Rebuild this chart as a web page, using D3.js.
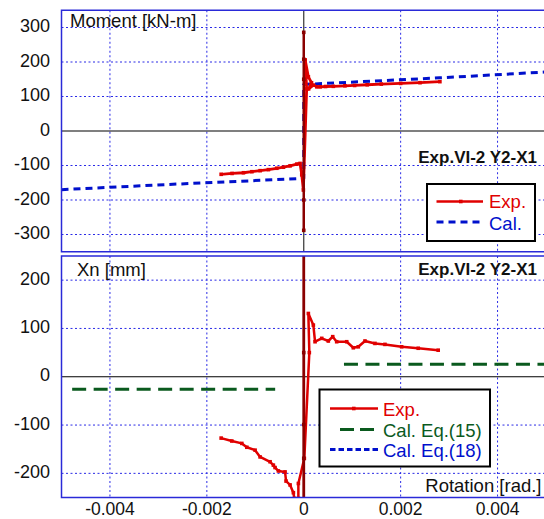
<!DOCTYPE html>
<html><head><meta charset="utf-8">
<script src="https://cdn.jsdelivr.net/npm/d3@7"></script>
<style>body{margin:0;background:#fff}svg{display:block}text{font-family:"Liberation Sans",Arial,sans-serif}</style>
</head><body><svg id="c" width="544" height="519"></svg>
<script>
// ---- data ----
const xTicks = [-0.004, -0.002, 0, 0.002, 0.004];
const xTickLabels = ["-0.004", "-0.002", "0", "0.002", "0.004"];
const momentTicks = [300, 200, 100, 0, -100, -200, -300];
const xnTicks = [200, 100, 0, -100, -200];
// Moment panel – experiment (rotation, moment)
const momentExp = [
  [-0.001705,-125.5],[-0.00148,-123],[-0.001245,-121],[-0.00107,-118],[-0.0009,-115],[-0.00073,-112],
  [-0.000557,-108],[-0.00042,-105],[-0.000282,-101],[-0.000144,-96],[-0.000076,-94],[-0.000041,-127],
  [-0.000008,-171],[0.00006,122],[0.00003,206],[0.000095,157],[0.00016,140],[0.0001,122],[0.0002,133],
  [0.00027,128],[0.00034,128],[0.00045,129],[0.00061,129.5],[0.00085,131],[0.00105,132],[0.00131,134],
  [0.0016,136],[0.002,138],[0.0024,140],[0.00281,143]
];
const momentExpSpike = [[0,286],[0,208],[0,150],[0,-200],[0,-288]];
const momentCal = [
  [-0.005,-170],[-0.0028,-155],[-0.0001,-138],[0,-138],[0,135],[0.0028,154],[0.005,171]
];
// Xn panel – experiment (rotation, Xn)
const xnExp = [
  [-0.001705,-127],[-0.001485,-133],[-0.001278,-138],[-0.001175,-146],[-0.001004,-152],
  [-0.000901,-166],[-0.000695,-176],[-0.000627,-183],[-0.000592,-188],[-0.000524,-195],
  [-0.000386,-197],[-0.000365,-216],[-0.000282,-224],[-0.000214,-240],[-0.000194,-252],
  [-0.000111,-252],[-0.000111,-221],[0.000012,-169],[0.000115,50],[0.000095,131],
  [0.000198,107],[0.000233,72.5],[0.000371,79.5],[0.000507,74],[0.000598,83],[0.00068,72.5],
  [0.000887,72.5],[0.001023,60],[0.001126,62],[0.001264,74],[0.00147,69],[0.001676,67],
  [0.002021,62],[0.002363,59],[0.002775,55]
];
const xnExpSpike = [[0,260],[0,50],[0,-99],[0,-169],[0,-260]];
const xnCal15Neg = [[-0.00478,-26],[-0.00059,-26]];
const xnCal15Pos = [[0.00083,26],[0.005,26]];
const specimen = "Exp.VI-2 Y2-X1";

// ---- layout ----
const svg = d3.select("#c");
const x = d3.scaleLinear().domain([-0.005, 0.005]).range([61.5, 546]);
const yM = d3.scaleLinear().domain([-350, 350]).range([251.75, 10.25]);
const yX = d3.scaleLinear().domain([-250, 250]).range([497.5, 256]);
const RED = "#e00000", DARKRED = "#8a0000", BLUE = "#0010cc", GREEN = "#0a5a1e", GRID = "#2a2ae6", FRAME = "#2a2ad8";
const FONT = "18.5px";

function panel(id, y, yTicks, top, bottom) {
  const g = svg.append("g");
  g.append("clipPath").attr("id", id).append("rect")
    .attr("x", x.range()[0]).attr("y", top).attr("width", 544 - x.range()[0]).attr("height", bottom - top);
  const gx = xTicks.filter(t => t !== 0), gy = yTicks.filter(t => t !== 0);
  g.selectAll(".gx").data(gx).join("line").attr("x1", d => x(d)).attr("x2", d => x(d))
    .attr("y1", top).attr("y2", bottom).attr("stroke", GRID).attr("stroke-width", 1).attr("stroke-dasharray", "2,2.5");
  g.selectAll(".gy").data(gy).join("line").attr("y1", d => y(d)).attr("y2", d => y(d))
    .attr("x1", x.range()[0]).attr("x2", 546).attr("stroke", GRID).attr("stroke-width", 1).attr("stroke-dasharray", "2,2.5");
  g.append("line").attr("x1", x.range()[0]).attr("x2", 546).attr("y1", y(0)).attr("y2", y(0)).attr("stroke", "#000").attr("stroke-width", 1.2);
  g.append("line").attr("x1", x(0)).attr("x2", x(0)).attr("y1", top).attr("y2", bottom).attr("stroke", "#333").attr("stroke-width", 1.2);
  g.selectAll(".yl").data(yTicks).join("text").attr("x", 50).attr("y", d => y(d) + 4.5)
    .attr("text-anchor", "end").attr("font-size", "18px").attr("fill", "#111").text(d => d);
  const plot = g.append("g").attr("clip-path", `url(#${id})`);
  return {g, plot};
}

function series(plot, y, data, color, width, dash, markers) {
  const line = d3.line().x(d => x(d[0])).y(d => y(d[1]));
  plot.append("path").datum(data).attr("d", line).attr("fill", "none").attr("stroke", color)
    .attr("stroke-width", width).attr("stroke-dasharray", dash || null).attr("stroke-linejoin", "round");
  if (markers) {
    plot.selectAll(null).data(data).join("rect").attr("x", d => x(d[0]) - 1.8).attr("y", d => y(d[1]) - 1.8)
      .attr("width", 3.6).attr("height", 3.6).attr("fill", color);
  }
}

// top panel
const P1 = panel("clip1", yM, momentTicks, 10.25, 251.75);
series(P1.plot, yM, momentCal, BLUE, 3, "7,5", false);
series(P1.plot, yM, momentExp, RED, 2.8, null, true);
series(P1.plot, yM, momentExpSpike, DARKRED, 2.5, null, true);
P1.g.append("rect").attr("x", x.range()[0]).attr("y", 10.25).attr("width", 600).attr("height", 241.5)
  .attr("fill", "none").attr("stroke", FRAME).attr("stroke-width", 1.5);
P1.g.append("text").attr("x", 70).attr("y", 27).attr("font-size", FONT).attr("fill", "#111").text("Moment [kN-m]");
P1.g.append("text").attr("x", 537).attr("y", 163).attr("text-anchor", "end").attr("font-size", "17px")
  .attr("font-weight", "bold").attr("fill", "#111").text(specimen);

// top legend
const L1 = P1.g.append("g");
L1.append("rect").attr("x", 427).attr("y", 184).attr("width", 108).attr("height", 57).attr("fill", "#fff")
  .attr("stroke", "#000").attr("stroke-width", 2);
L1.append("line").attr("x1", 436.5).attr("x2", 483).attr("y1", 201.5).attr("y2", 201.5).attr("stroke", RED).attr("stroke-width", 2.5);
L1.append("rect").attr("x", 459).attr("y", 199.7).attr("width", 3.6).attr("height", 3.6).attr("fill", RED);
L1.append("line").attr("x1", 436.5).attr("x2", 483).attr("y1", 222).attr("y2", 222).attr("stroke", BLUE).attr("stroke-width", 3).attr("stroke-dasharray", "7,5");
L1.append("text").attr("x", 489).attr("y", 208).attr("font-size", FONT).attr("fill", RED).text("Exp.");
L1.append("text").attr("x", 489).attr("y", 229.5).attr("font-size", FONT).attr("fill", BLUE).text("Cal.");

// bottom panel
const P2 = panel("clip2", yX, xnTicks, 256, 497.5);
series(P2.plot, yX, xnCal15Neg, GREEN, 3, "14,7.5", false);
series(P2.plot, yX, xnCal15Pos, GREEN, 3, "14,7.5", false);
series(P2.plot, yX, xnExp, RED, 2.5, null, true);
series(P2.plot, yX, xnExpSpike, DARKRED, 2.8, null, true);
P2.g.append("rect").attr("x", x.range()[0]).attr("y", 256).attr("width", 600).attr("height", 241.5)
  .attr("fill", "none").attr("stroke", FRAME).attr("stroke-width", 1.5);
P2.g.append("text").attr("x", 77).attr("y", 276).attr("font-size", FONT).attr("fill", "#111").text("Xn [mm]");
P2.g.append("text").attr("x", 537).attr("y", 275).attr("text-anchor", "end").attr("font-size", "17px")
  .attr("font-weight", "bold").attr("fill", "#111").text(specimen);
P2.g.append("text").attr("x", 541.5).attr("y", 491.5).attr("text-anchor", "end").attr("font-size", FONT)
  .attr("fill", "#111").text("Rotation [rad.]");

// bottom legend
const L2 = P2.g.append("g");
L2.append("rect").attr("x", 319.5).attr("y", 389.5).attr("width", 170.5).attr("height", 77).attr("fill", "#fff")
  .attr("stroke", "#000").attr("stroke-width", 2);
L2.append("line").attr("x1", 330).attr("x2", 378).attr("y1", 408.5).attr("y2", 408.5).attr("stroke", RED).attr("stroke-width", 2.5);
L2.append("rect").attr("x", 352).attr("y", 406.7).attr("width", 3.6).attr("height", 3.6).attr("fill", RED);
L2.append("line").attr("x1", 340).attr("x2", 378).attr("y1", 429.5).attr("y2", 429.5).attr("stroke", GREEN).attr("stroke-width", 3).attr("stroke-dasharray", "14,6");
L2.append("line").attr("x1", 330).attr("x2", 378).attr("y1", 449.5).attr("y2", 449.5).attr("stroke", BLUE).attr("stroke-width", 3).attr("stroke-dasharray", "5.5,3");
L2.append("text").attr("x", 383).attr("y", 415.5).attr("font-size", FONT).attr("fill", RED).text("Exp.");
L2.append("text").attr("x", 383).attr("y", 436.5).attr("font-size", FONT).attr("fill", GREEN).text("Cal. Eq.(15)");
L2.append("text").attr("x", 383).attr("y", 456.5).attr("font-size", FONT).attr("fill", BLUE).text("Cal. Eq.(18)");

// x tick labels
svg.selectAll(".xl").data(xTicks).join("text").attr("x", d => x(d)).attr("y", 515)
  .attr("text-anchor", "middle").attr("font-size", "17.5px").attr("fill", "#111")
  .text((d, i) => xTickLabels[i]);
</script></body></html>
